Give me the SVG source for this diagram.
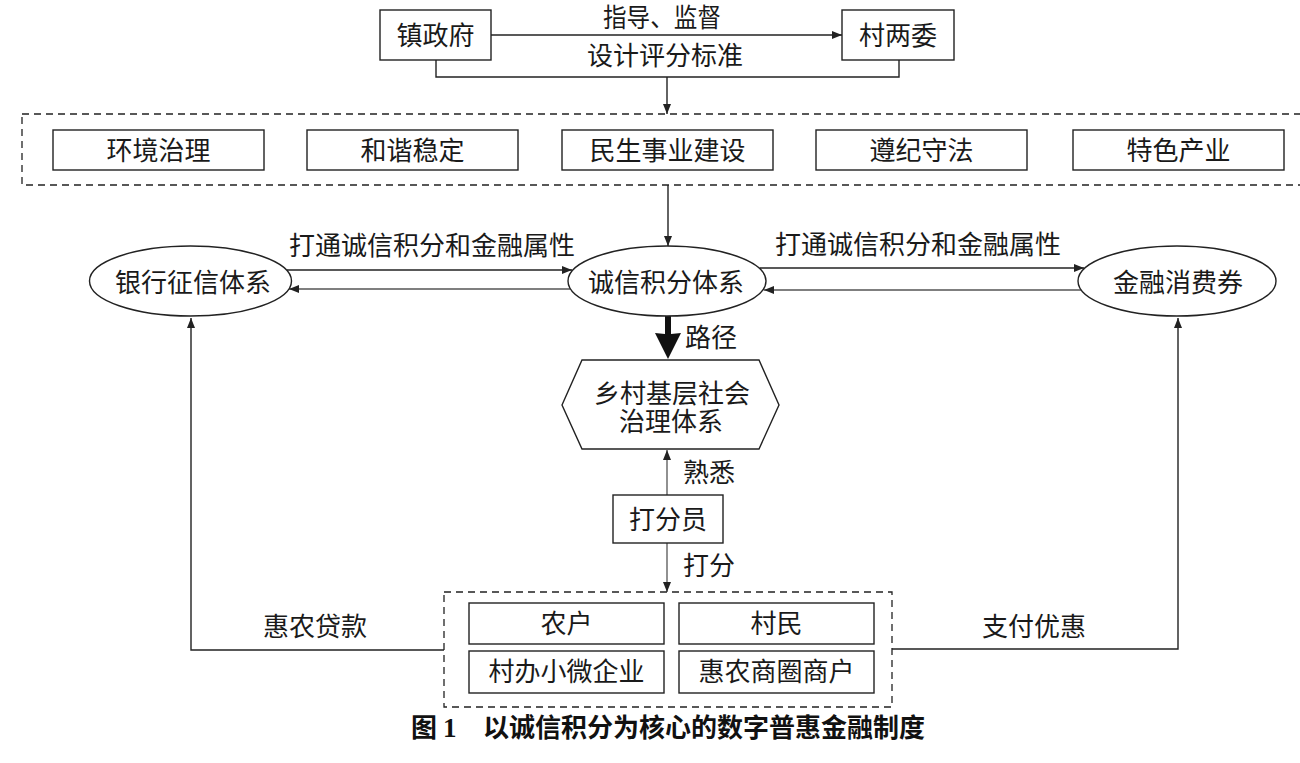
<svg xmlns="http://www.w3.org/2000/svg" width="1300" height="763" viewBox="0 0 1300 763">
  <defs>
    <marker id="arr" markerUnits="userSpaceOnUse" markerWidth="10" markerHeight="8" refX="10" refY="4" orient="auto">
      <path d="M0,0 L10,4 L0,8 z" fill="#222"/>
    </marker>
    <style>
      .box { fill: #fff; stroke: #222; stroke-width: 1.4; }
      .dash { fill: none; stroke: #222; stroke-width: 1.3; stroke-dasharray: 7 5; }
      .ell { fill: #fff; stroke: #222; stroke-width: 1.4; }
      .ln { fill: none; stroke: #222; stroke-width: 1.4; }
      .lg { fill: none; stroke: #555; stroke-width: 1.3; }
      .t { font-family: "Liberation Serif", "Noto Sans CJK SC", serif; font-size: 26px; fill: #1a1a1a; text-anchor: middle; }
      .cap { font-family: "Noto Sans CJK SC", sans-serif; font-size: 26px; font-weight: bold; fill: #111; }
      .capn { font-family: "Liberation Serif", serif; font-size: 27px; font-weight: bold; fill: #111; }
    </style>
  </defs>

  <rect width="1300" height="763" fill="#fff"/>

  <!-- connectors -->
  <g id="connectors">
    <line class="ln" x1="491" y1="35" x2="842" y2="35" marker-end="url(#arr)"/>
    <polyline class="ln" points="436,60 436,77 899,77 899,60"/>
    <line class="ln" x1="667" y1="77" x2="667" y2="114" marker-end="url(#arr)"/>
    <line class="ln" x1="668" y1="185" x2="668" y2="246" marker-end="url(#arr)"/>
    <line class="ln" x1="287" y1="270" x2="572" y2="270" marker-end="url(#arr)"/>
    <line class="lg" x1="570" y1="289" x2="289" y2="289" marker-end="url(#arr)"/>
    <line class="ln" x1="760" y1="268" x2="1084" y2="268" marker-end="url(#arr)"/>
    <line class="lg" x1="1081" y1="290" x2="764" y2="290" marker-end="url(#arr)"/>
    <path d="M665,316 L671,316 L671,334 L681,333 L668,359 L655,333 L665,334 z" fill="#111"/>
    <line class="lg" x1="667" y1="495" x2="667" y2="450" marker-end="url(#arr)"/>
    <line class="lg" x1="667" y1="543" x2="667" y2="592" marker-end="url(#arr)"/>
    <polyline class="ln" points="444,650 191,650 191,318" marker-end="url(#arr)"/>
    <polyline class="ln" points="892,649 1178,649 1178,318" marker-end="url(#arr)"/>
    <text class="t" x="662" y="27" textLength="118" lengthAdjust="spacingAndGlyphs">指导、监督</text>
    <text class="t" x="665" y="65">设计评分标准</text>
    <text class="t" x="432" y="255">打通诚信积分和金融属性</text>
    <text class="t" x="918" y="254">打通诚信积分和金融属性</text>
    <text class="t" x="711" y="347">路径</text>
    <text class="t" x="709" y="482">熟悉</text>
    <text class="t" x="709" y="575">打分</text>
    <text class="t" x="315" y="636">惠农贷款</text>
    <text class="t" x="1034" y="636">支付优惠</text>
  </g>

  <g id="zhenzhengfu">
    <rect class="box" x="380" y="10" width="111" height="50"/>
    <text class="t" x="435.5" y="45">镇政府</text>
  </g>
  <g id="cunliangwei">
    <rect class="box" x="842" y="10" width="112" height="50"/>
    <text class="t" x="898" y="45">村两委</text>
  </g>

  <g id="criteria">
    <rect class="dash" x="22" y="114" width="1290" height="71"/>
    <g id="huanjing">
      <rect class="box" x="53" y="130" width="211" height="40"/>
      <text class="t" x="158.5" y="160">环境治理</text>
    </g>
    <g id="hexie">
      <rect class="box" x="307" y="130" width="211" height="40"/>
      <text class="t" x="412.5" y="160">和谐稳定</text>
    </g>
    <g id="minsheng">
      <rect class="box" x="562" y="130" width="211" height="40"/>
      <text class="t" x="667.5" y="160">民生事业建设</text>
    </g>
    <g id="zunji">
      <rect class="box" x="816" y="130" width="211" height="40"/>
      <text class="t" x="921.5" y="160">遵纪守法</text>
    </g>
    <g id="tese">
      <rect class="box" x="1073" y="130" width="211" height="40"/>
      <text class="t" x="1178.5" y="160">特色产业</text>
    </g>
  </g>

  <g id="yinhang">
    <ellipse class="ell" cx="190.5" cy="281" rx="101" ry="35"/>
    <text class="t" x="193" y="292">银行征信体系</text>
  </g>
  <g id="chengxin">
    <ellipse class="ell" cx="667" cy="281" rx="99" ry="35"/>
    <text class="t" x="666" y="292">诚信积分体系</text>
  </g>
  <g id="jinrong">
    <ellipse class="ell" cx="1177" cy="281" rx="99" ry="35"/>
    <text class="t" x="1178" y="292">金融消费券</text>
  </g>

  <g id="xiangcun">
    <polygon class="box" points="562,405 582,360 759,360 779,405 759,449 582,449"/>
    <text class="t" x="672" y="403">乡村基层社会</text>
    <text class="t" x="671" y="431">治理体系</text>
  </g>

  <g id="dafenyuan">
    <rect class="box" x="613" y="495" width="110" height="48"/>
    <text class="t" x="668" y="529">打分员</text>
  </g>

  <g id="subjects">
    <rect class="dash" x="444" y="592" width="448" height="115"/>
    <g id="nonghu">
      <rect class="box" x="469" y="603" width="195" height="41"/>
      <text class="t" x="566.5" y="633">农户</text>
    </g>
    <g id="cunmin">
      <rect class="box" x="679" y="603" width="195" height="41"/>
      <text class="t" x="776.5" y="633">村民</text>
    </g>
    <g id="qiye">
      <rect class="box" x="469" y="651" width="195" height="42"/>
      <text class="t" x="566.5" y="681">村办小微企业</text>
    </g>
    <g id="shanghu">
      <rect class="box" x="679" y="651" width="195" height="42"/>
      <text class="t" x="776.5" y="681">惠农商圈商户</text>
    </g>
  </g>

  <g id="caption">
    <text class="cap" x="411" y="737">图</text>
    <text class="capn" x="443" y="737">1</text>
    <text class="cap" x="483" y="737">以诚信积分为核心的数字普惠金融制度</text>
  </g>
</svg>
